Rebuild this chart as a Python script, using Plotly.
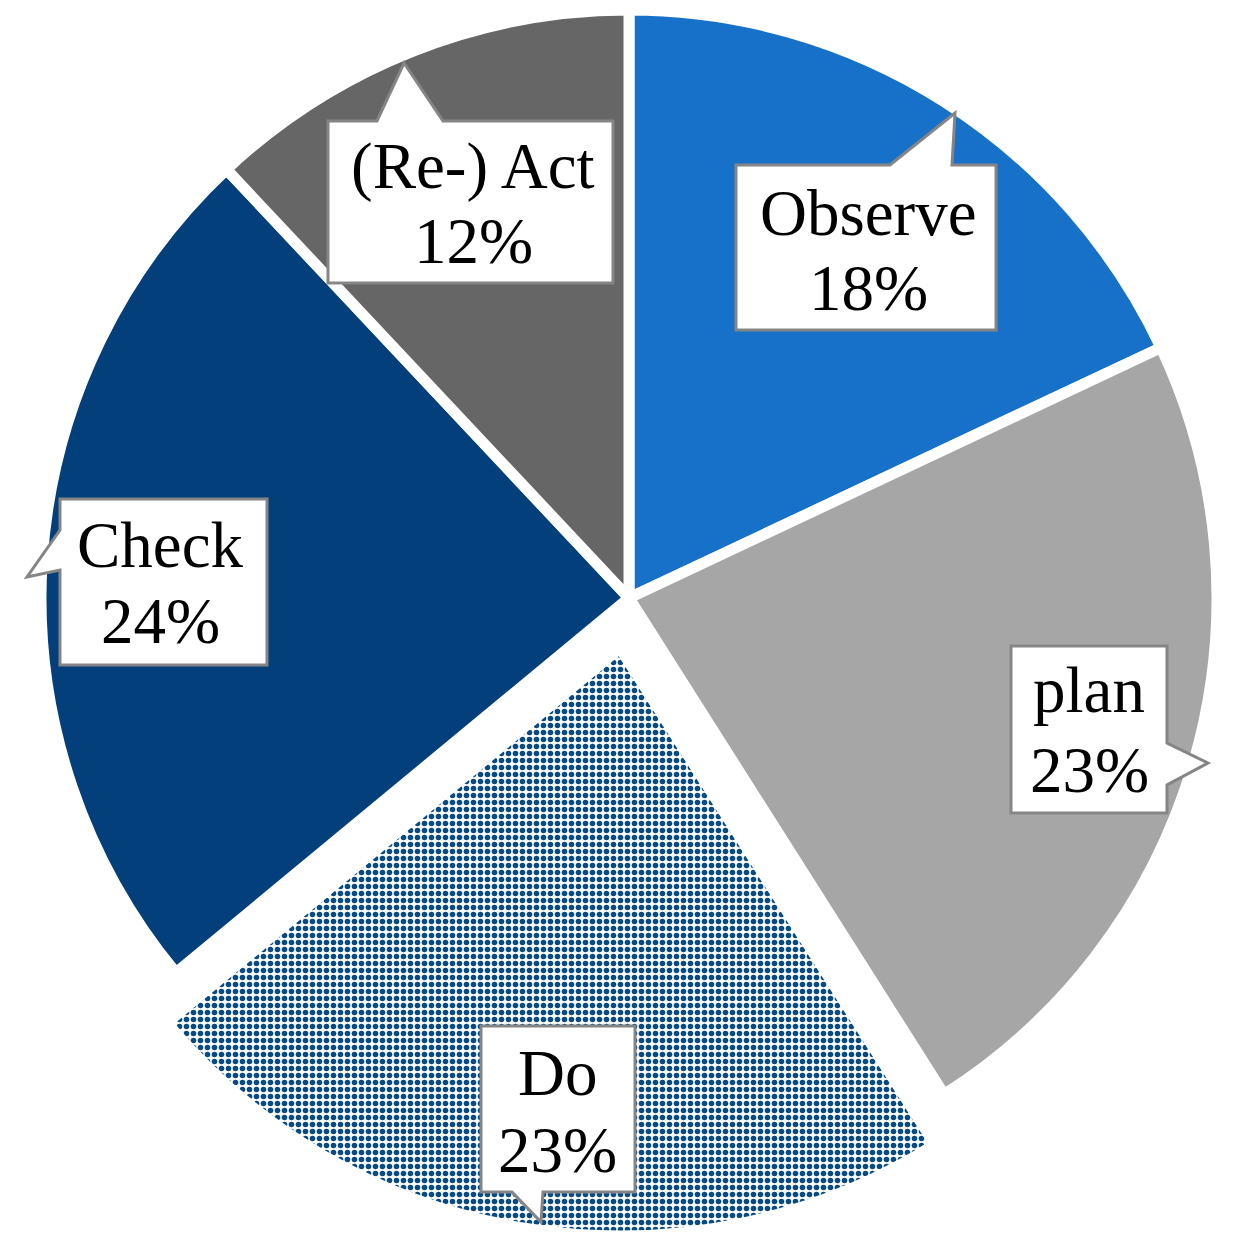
import plotly.graph_objects as go

# ---- data ----
labels = ["Observe", "plan", "Do", "Check", "(Re-) Act"]
values = [18, 23, 23, 24, 12]
pct_text = ["18%", "23%", "23%", "24%", "12%"]

# ---- style ----
W = H = 1232          # figure size (page has an 8px body margin)
OFF = 8
colors = ["#1771C9", "#A6A6A6", "rgba(0,0,0,0)", "#033F7B", "#666666"]
do_fg = "#084A82"
white = "#FFFFFF"
gap = 11


def px(x):
    return (x - OFF) / W


def py(y):
    return 1 - (y - OFF) / H


def clamp(v):
    return min(1.0, max(0.0, v))


def dom(cx, cy, r):
    return dict(x=[clamp(px(cx - r)), clamp(px(cx + r))],
                y=[clamp(py(cy + r)), clamp(py(cy - r))])


R = 588
main_c = (629, 598)
do_c = (620, 648)

fig = go.Figure()

# main pie (Do slice hidden here, drawn exploded in the second trace)
fig.add_trace(go.Pie(
    labels=labels, values=values, sort=False, direction="clockwise", rotation=0,
    marker=dict(colors=colors, line=dict(color=white, width=[gap, gap, 0, gap, gap])),
    textinfo="none", hoverinfo="label+percent", domain=dom(main_c[0], main_c[1], R),
    showlegend=False,
))

# exploded Do slice
do_colors = ["rgba(0,0,0,0)"] * len(labels)
do_colors[2] = white
fig.add_trace(go.Pie(
    labels=labels, values=values, sort=False, direction="clockwise", rotation=0,
    marker=dict(colors=do_colors,
                line=dict(color=white, width=[0, 0, gap, 0, 0]),
                pattern=dict(shape=["", "", ".", "", ""], fgcolor=do_fg, bgcolor=white,
                             size=7, solidity=0.5, fgopacity=1, fillmode="replace")),
    textinfo="none", hoverinfo="skip", domain=dom(do_c[0], do_c[1], R),
    showlegend=False,
))

# callout boxes (page pixel layout -> paper coords)
callouts = {
    "(Re-) Act": [(328, 121), (377, 121), (404, 63), (443, 121), (613, 121), (613, 283), (328, 283)],
    "Observe": [(736, 165), (890, 165), (955, 113), (952, 165), (996, 165), (996, 330), (736, 330)],
    "plan": [(1011, 646), (1167, 646), (1167, 743), (1208, 763), (1167, 785), (1167, 813), (1011, 813)],
    "Do": [(481, 1026), (635, 1026), (635, 1192), (543, 1192), (541, 1222), (512, 1192), (481, 1192)],
    "Check": [(60, 499), (267, 499), (267, 665), (60, 665), (60, 570), (27, 577), (60, 530)],
}
# (x, y of first line, y of second line)
text_pos = {
    "(Re-) Act": (473, 166, 241),
    "Observe": (868, 213, 288),
    "plan": (1089, 690, 770),
    "Do": (557, 1073, 1150),
    "Check": (160, 545, 621),
}

font = dict(family="Liberation Serif, Times New Roman, serif", size=65, color="#000000")
shapes = []
annotations = []
for lab, pct in zip(labels, pct_text):
    pts = callouts[lab]
    path = "M " + " L ".join(f"{px(x):.5f},{py(y):.5f}" for x, y in pts) + " Z"
    shapes.append(dict(type="path", xref="paper", yref="paper", path=path,
                       fillcolor=white, line=dict(color="#858585", width=3), layer="above"))
    tx, ty1, ty2 = text_pos[lab]
    for txt, ty in ((lab, ty1), (pct, ty2)):
        annotations.append(dict(
            x=px(tx), y=py(ty), xref="paper", yref="paper", xanchor="center", yanchor="middle",
            text=txt, showarrow=False, font=font,
        ))

fig.update_layout(
    width=W, height=H, margin=dict(l=0, r=0, t=0, b=0),
    paper_bgcolor=white, plot_bgcolor=white,
    shapes=shapes, annotations=annotations, showlegend=False,
)

fig.write_html("out.html")
